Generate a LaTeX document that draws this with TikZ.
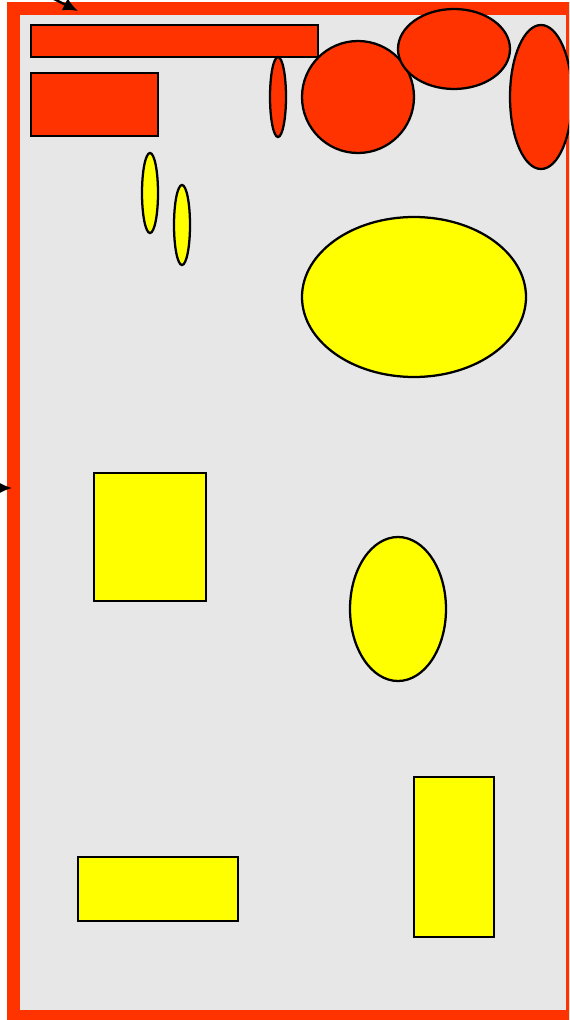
\documentclass[tikz,border=0pt]{standalone}
\usepackage{xcolor}
\usetikzlibrary{arrows.meta}
\definecolor{framered}{RGB}{255,51,0}
\definecolor{shapeyellow}{RGB}{255,255,0}
\definecolor{paper}{RGB}{231,231,231}

\begin{document}
\begin{tikzpicture}[
    x=0.75pt, y=-0.75pt,
    redshape/.style={fill=framered, draw=black, line width=1.7pt},
    yellowshape/.style={fill=shapeyellow, draw=black, line width=1.7pt},
    sheet/.style={draw=framered, fill=paper, line width=9.75pt},
    pointer/.style={draw=black, line width=1.8pt, -{Latex[length=11pt, width=10pt]}}
]
\clip (0,0) rectangle (569,1020);

% ---------- Sheet with red border ----------
\path[sheet] (13.5,9) rectangle (572.5,1016);

% ---------- Red shapes (top) ----------
\path[redshape] (31,25) rectangle (318,57);
\path[redshape] (31,73) rectangle (158,136);
\path[redshape] (278,97) ellipse [x radius=8, y radius=40];
\path[redshape] (358,97) circle [radius=56];
\path[redshape] (454,49) ellipse [x radius=56, y radius=40];
\path[redshape] (541,97) ellipse [x radius=31, y radius=72];

% ---------- Yellow shapes ----------
\path[yellowshape] (150,193) ellipse [x radius=8, y radius=40];
\path[yellowshape] (182,225) ellipse [x radius=8, y radius=40];
\path[yellowshape] (414,297) ellipse [x radius=112, y radius=80];
\path[yellowshape] (94,473) rectangle (206,601);
\path[yellowshape] (398,609) ellipse [x radius=48, y radius=72];
\path[yellowshape] (414,777) rectangle (494,937);
\path[yellowshape] (78,857) rectangle (238,921);

% ---------- Pointers onto the border ----------
\coordinate (topfrom) at (48,-4);
\coordinate (topto) at (78,11);
\coordinate (leftfrom) at (-20,488);
\coordinate (leftto) at (12,488);
\draw[pointer] (topfrom) -- (topto);
\draw[pointer] (leftfrom) -- (leftto);

\end{tikzpicture}
\end{document}
